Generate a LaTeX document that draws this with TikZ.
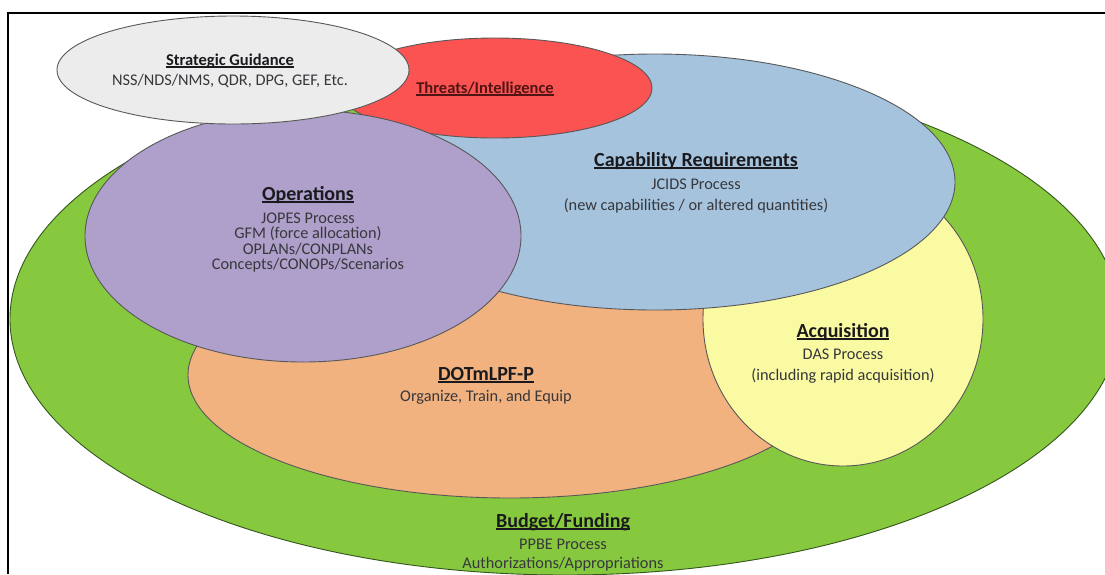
\documentclass[tikz,border=0pt]{standalone}
\usepackage{fontspec}
\setmainfont{Carlito}

\definecolor{budgetgreen}{RGB}{135,201,62}
\definecolor{budgetedge}{RGB}{52,86,28}
\definecolor{dotpeach}{RGB}{241,178,128}
\definecolor{acqyellow}{RGB}{249,250,162}
\definecolor{capblue}{RGB}{165,195,221}
\definecolor{opspurple}{RGB}{174,160,203}
\definecolor{threatred}{RGB}{251,82,82}
\definecolor{guidegray}{RGB}{236,236,236}
\definecolor{shapeedge}{RGB}{88,88,88}
\definecolor{titleink}{RGB}{26,26,30}
\definecolor{bodyink}{RGB}{55,55,60}
\definecolor{threatink}{RGB}{80,20,20}

% underline drawn as a rule slightly below the baseline
\newcommand{\titleline}[1]{\setbox0\hbox{#1}\leavevmode\rlap{\rule[-2.6pt]{\wd0}{1.3pt}}\box0}

\begin{document}
\begin{tikzpicture}[x=1pt,y=-1pt,
  zone/.style={draw=shapeedge, line width=0.9pt},
  ttl/.style={anchor=base, inner sep=0pt, text=titleink, font=\fontsize{20}{22}\selectfont\bfseries},
  smallttl/.style={anchor=base, inner sep=0pt, text=titleink, font=\fontsize{16.5}{20}\selectfont\bfseries},
  txt/.style={anchor=base, inner sep=0pt, text=bodyink, font=\fontsize{16.3}{20}\selectfont},
  frameline/.style={line width=2.4pt, black}]
\useasboundingbox (0,0) rectangle (1105,574);
\begin{scope}
\clip (0,0) rectangle (1105,574);
\fill[white] (0,0) rectangle (1105,574);

% nested areas, back to front
\draw[zone, draw=budgetedge, fill=budgetgreen] (565,319) ellipse [x radius=555pt, y radius=256pt];
\draw[zone, fill=dotpeach] (510,375) ellipse [x radius=322pt, y radius=123pt];
\draw[zone, fill=acqyellow] (843,319) ellipse [x radius=140pt, y radius=147pt];
\draw[zone, fill=capblue] (655,182) ellipse [x radius=300pt, y radius=128pt];
\draw[zone, fill=threatred] (495,88) ellipse [x radius=157pt, y radius=50pt];
\draw[zone, fill=opspurple] (303,236) ellipse [x radius=218pt, y radius=126pt];
\draw[zone, fill=guidegray] (233,70) ellipse [x radius=176pt, y radius=54pt];
\end{scope}

% frame lines along top and left
\coordinate (fl) at (8,574);
\coordinate (fc) at (8,13);
\coordinate (fr) at (1105,13);
\draw[frameline] (fl) -- (fc) -- (fr);

% Strategic Guidance
\node[smallttl] (sg1) at (230,65) {\titleline{Strategic Guidance}};
\node[txt] (sg2) at (230,85) {NSS/NDS/NMS, QDR, DPG, GEF, Etc.};

% Threats/Intelligence
\node[smallttl, text=threatink] (ti1) at (485,93) {\titleline{Threats/Intelligence}};

% Capability Requirements
\node[ttl] (cr1) at (696,166) {\titleline{Capability Requirements}};
\node[txt] (cr2) at (696,189) {JCIDS Process};
\node[txt] (cr3) at (696,210) {(new capabilities / or altered quantities)};

% Operations
\node[ttl] (op1) at (308,200) {\titleline{Operations}};
\node[txt] (op2) at (308,223) {JOPES Process};
\node[txt] (op3) at (308,238.5) {GFM (force allocation)};
\node[txt] (op4) at (308,254) {OPLANs/CONPLANs};
\node[txt] (op5) at (308,269.5) {Concepts/CONOPs/Scenarios};

% DOTmLPF-P
\node[ttl] (dt1) at (486,380) {\titleline{DOTmLPF-P}};
\node[txt] (dt2) at (486,401) {Organize, Train, and Equip};

% Acquisition
\node[ttl] (aq1) at (843,337) {\titleline{Acquisition}};
\node[txt] (aq2) at (843,359) {DAS Process};
\node[txt] (aq3) at (843,380) {(including rapid acquisition)};

% Budget/Funding
\node[ttl] (bf1) at (563,527) {\titleline{Budget/Funding}};
\node[txt] (bf2) at (563,549) {PPBE Process};
\node[txt] (bf3) at (563,568) {Authorizations/Appropriations};
\end{tikzpicture}
\end{document}
